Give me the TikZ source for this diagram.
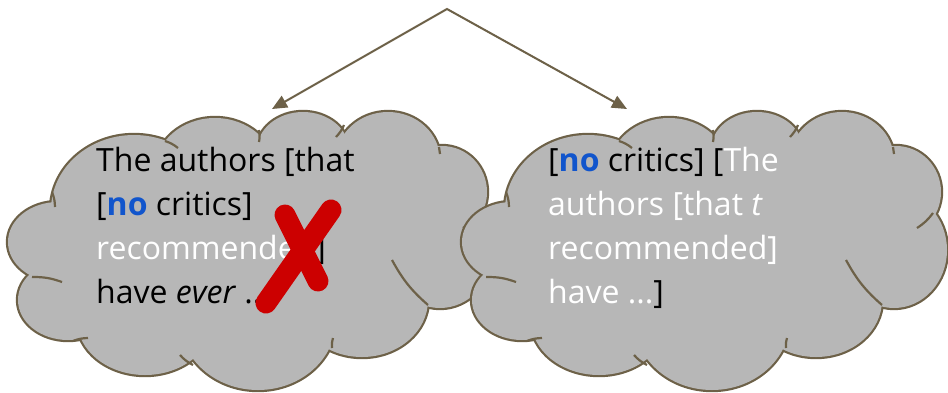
\documentclass[tikz,border=0pt]{standalone}
\usepackage{fontspec}
\setmainfont{Open Sans}
\usetikzlibrary{arrows.meta}
\definecolor{cloudline}{RGB}{109,97,72}
\definecolor{cloudgray}{RGB}{183,183,183}
\definecolor{noblue}{RGB}{17,85,204}
\definecolor{crossred}{RGB}{204,0,0}
\newcommand{\cloudpuffs}{58/242/50/40,134/210/83/75,215/170/60/52,303/150/46/38,388/160/52/48,442/192/45/46,440/250/53/58,362/300/66/57,258/320/78/70,145/320/68/55,68/300/50/40}
\newcommand{\cloudcreases}{52/192/55/207,165/141/178/148,259/130/259/142,344/125/336/137,439/147/440/154,479/213/463/228,428/305/392/260,332/348/333/338,193/365/180/355,73/341/88/338,32/277/62/282}
\newcommand{\noword}{\textcolor{noblue}{\textbf{no}}}
\tikzset{
	puffedge/.style={draw=cloudline,line width=4.4pt},
	puffbody/.style={fill=cloudgray},
	puffcrease/.style={draw=cloudline,line width=2.2pt},
	cloudtext/.style={anchor=north west,align=left,inner sep=0pt,font=\fontsize{32}{44}\selectfont},
	pointer/.style={draw=cloudline,line width=2pt,miter limit=20,{Triangle[length=15pt,width=13pt]}-{Triangle[length=15pt,width=13pt]}},
	crossline/.style={draw=crossred,line width=21pt,line cap=round}
}
\begin{document}
\begin{tikzpicture}[x=1pt,y=1pt]
\useasboundingbox (0,0) rectangle (948,-392);
\coordinate (apex) at (447,-9);
\coordinate (lefttip) at (272,-109);
\coordinate (righttip) at (627,-109);
\draw[pointer] (lefttip) -- (apex) -- (righttip);
\foreach \off in {0,454} {
	\begin{scope}[shift={(\off,0)}]
		\foreach \cx/\cy/\rx/\ry in \cloudpuffs
			\draw[puffedge] (\cx,-\cy) ellipse[x radius=\rx,y radius=\ry];
		\fill[puffbody] (255,-245) ellipse[x radius=190,y radius=100];
		\foreach \cx/\cy/\rx/\ry in \cloudpuffs
			\fill[puffbody] (\cx,-\cy) ellipse[x radius=\rx,y radius=\ry];
		\foreach \ax/\ay/\bx/\by in \cloudcreases
			\draw[puffcrease] (\ax,-\ay) to[bend left=10] (\bx,-\by);
	\end{scope}
}
\node[cloudtext] (lefttext) at (96,-147) {\rule{0pt}{24pt}The authors [that\\
	{[}\noword{} critics]\\
	\textcolor{white}{recommended}]\\
	have \textit{ever} ...};
\node[cloudtext] (righttext) at (548,-147) {\rule{0pt}{24pt}[\noword{} critics] [\textcolor{white}{The}\\
	\textcolor{white}{authors [that \textit{t}}\\
	\textcolor{white}{recommended]}\\
	\textcolor{white}{have ...}]};
\draw[crossline] (285,-215) -- (318,-281);
\draw[crossline] (331,-210) -- (266,-303);
\end{tikzpicture}
\end{document}
